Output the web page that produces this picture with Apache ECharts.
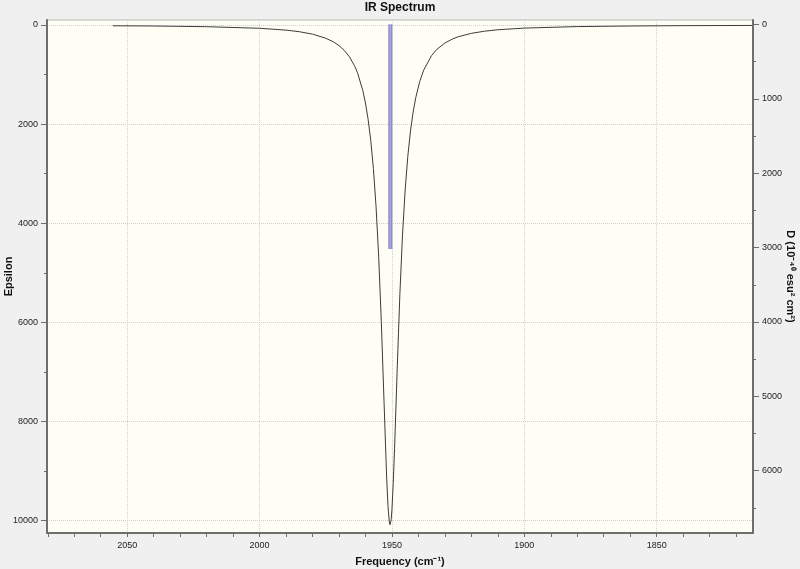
<!DOCTYPE html>
<html><head><meta charset="utf-8">
<script src="https://cdn.jsdelivr.net/npm/echarts@6/dist/echarts.min.js"></script>
<style>html,body{margin:0;padding:0;background:#f0f0f0}#c{width:800px;height:569px}</style>
</head><body><div id="c"></div>
<script>
// Spectrum curve (frequency in cm^-1, epsilon)
const freq = [2055.5, 2040, 2020, 2000, 1990, 1985, 1980, 1975, 1972, 1970, 1968, 1966, 1964, 1963, 1961, 1960, 1959, 1958, 1957, 1956, 1955, 1954, 1953, 1952, 1951.5, 1951, 1950.7, 1950.3, 1950, 1949.5, 1949, 1948, 1947, 1946, 1945, 1944, 1943, 1942, 1941, 1939.5, 1938, 1935, 1933, 1930, 1927, 1925, 1920, 1915, 1910, 1900, 1880, 1860, 1840, 1814];
const epsilon = [15, 20, 34, 66, 103, 135, 184, 266, 343, 415, 512, 645, 836, 964, 1321, 1574, 1900, 2327, 2896, 3658, 4676, 5998, 7575, 9117, 9692, 10024, 10080, 9980, 9780, 9248, 8538, 6925, 5432, 4234, 3326, 2649, 2142, 1759, 1465, 1140, 910, 614, 490, 363, 279, 238, 168, 125, 96, 62, 32, 20, 13, 9];
// Stick (dipole strength, right axis)
const stickFreq = [1950.6];
const stickD = [3020];
// Tick labels
const xLabelTicks = [1850, 1900, 1950, 2000, 2050];
const xMinorTicks = [1820, 1830, 1840, 1860, 1870, 1880, 1890, 1910, 1920, 1930, 1940, 1960, 1970, 1980, 1990, 2010, 2020, 2030, 2040, 2060, 2070, 2080];
const epsLabelTicks = [0, 2000, 4000, 6000, 8000, 10000];
const epsMinorTicks = [1000, 3000, 5000, 7000, 9000];
const dLabelTicks = [0, 1000, 2000, 3000, 4000, 5000, 6000];
const dMinorTicks = [500, 1500, 2500, 3500, 4500, 5500, 6500];

const FONT = "'Liberation Sans', Arial, sans-serif";
const axisColor = '#6e6e6e';
const labelStyle = {color: '#222', fontSize: 9, fontFamily: FONT, formatter: v => String(v)};
const nameStyle = {color: '#111', fontSize: 11, fontWeight: 'bold', fontFamily: FONT};

const X_MIN = 1813.6, X_MAX = 2080.3;
const E_MIN = -101, E_MAX = 10248;
const D_MIN = -60.5, D_MAX = 6837;

const chart = echarts.init(document.getElementById('c'), null, {renderer: 'canvas'});
const curveData = freq.map((f, i) => [f, epsilon[i]]);
const stickData = [];
stickFreq.forEach((f, i) => { stickData.push([f, 0]); stickData.push([f, stickD[i]]); });

chart.setOption({
  animation: false,
  backgroundColor: '#f0f0f0',
  title: {
    text: 'IR Spectrum', left: 'center', top: 2, padding: 0,
    textStyle: {fontSize: 12, fontWeight: 'bold', color: '#111', fontFamily: FONT}
  },
  grid: {
    left: 47, right: 47, top: 20, bottom: 36, containLabel: false, outerBoundsMode: 'none',
    show: true, backgroundColor: '#fefef5', borderColor: '#b8b8b8', borderWidth: 1
  },
  xAxis: [{
    type: 'value', inverse: true, min: X_MIN, max: X_MAX, splitNumber: 5,
    position: 'bottom',
    name: 'Frequency (cm⁻¹)', nameLocation: 'middle', nameGap: 23, nameMoveOverlap: false,
    nameTextStyle: nameStyle,
    axisLine: {show: true, onZero: false, lineStyle: {color: axisColor, width: 2}},
    axisTick: {show: true, length: 4, customValues: xLabelTicks, lineStyle: {color: axisColor}},
    axisLabel: {customValues: xLabelTicks, margin: 8, ...labelStyle},
    splitLine: {show: true, lineStyle: {color: '#cfcfcf', type: 'dotted'}}
  }, {
    type: 'value', inverse: true, min: X_MIN, max: X_MAX, position: 'bottom',
    axisLine: {show: false, onZero: false},
    axisTick: {show: true, length: 4, customValues: xMinorTicks, lineStyle: {color: axisColor}},
    axisLabel: {show: false}, splitLine: {show: false}
  }],
  yAxis: [{
    type: 'value', inverse: true, min: E_MIN, max: E_MAX, splitNumber: 5, position: 'left',
    name: 'Epsilon', nameLocation: 'middle', nameGap: 33, nameMoveOverlap: false,
    nameTextStyle: nameStyle,
    axisLine: {show: true, onZero: false, lineStyle: {color: axisColor, width: 2}},
    axisTick: {show: true, length: 6, customValues: epsLabelTicks, lineStyle: {color: axisColor}},
    axisLabel: {customValues: epsLabelTicks, margin: 9, ...labelStyle},
    splitLine: {show: true, lineStyle: {color: '#cfcfcf', type: 'dotted'}}
  }, {
    type: 'value', inverse: true, min: E_MIN, max: E_MAX, position: 'left',
    axisLine: {show: false, onZero: false},
    axisTick: {show: true, length: 3, customValues: epsMinorTicks, lineStyle: {color: axisColor}},
    axisLabel: {show: false},
    splitLine: {show: false}
  }, {
    type: 'value', inverse: true, min: D_MIN, max: D_MAX, position: 'right',
    name: 'D (10⁻⁴⁰ esu² cm²)', nameLocation: 'middle', nameGap: 32, nameRotate: -90,
    nameMoveOverlap: false, nameTextStyle: nameStyle,
    axisLine: {show: true, onZero: false, lineStyle: {color: axisColor, width: 2}},
    axisTick: {show: true, length: 6, customValues: dLabelTicks, lineStyle: {color: axisColor}},
    axisLabel: {customValues: dLabelTicks, margin: 9, ...labelStyle},
    splitLine: {show: false}
  }, {
    type: 'value', inverse: true, min: D_MIN, max: D_MAX, position: 'right',
    axisLine: {show: false, onZero: false},
    axisTick: {show: true, length: 3, customValues: dMinorTicks, lineStyle: {color: axisColor}},
    axisLabel: {show: false},
    splitLine: {show: false}
  }],
  series: [{
    type: 'line', xAxisIndex: 0, yAxisIndex: 2, data: stickData,
    showSymbol: false, silent: true, z: 2,
    lineStyle: {color: '#7c7cc4', width: 4}
  }, {
    type: 'line', xAxisIndex: 0, yAxisIndex: 2, data: stickData,
    showSymbol: false, silent: true, z: 3,
    lineStyle: {color: '#a9a9e2', width: 2}
  }, {
    type: 'line', xAxisIndex: 0, yAxisIndex: 0, data: curveData,
    showSymbol: false, silent: true, smooth: false, z: 4,
    lineStyle: {color: '#3c3c3c', width: 1}
  }]
});
</script>
</body></html>
